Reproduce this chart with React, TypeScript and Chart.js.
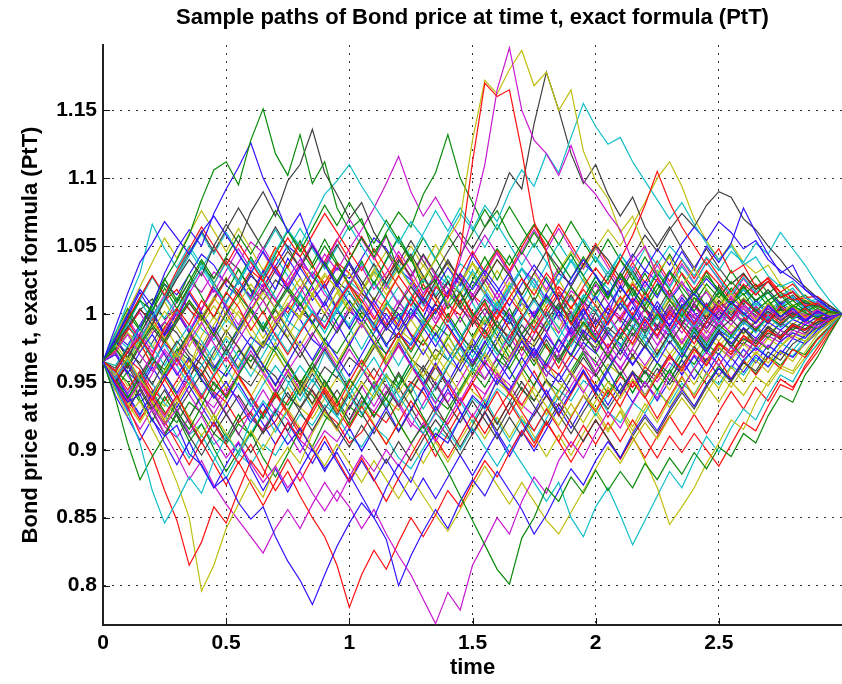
import React, { useEffect, useRef } from "react";
import { Chart, registerables } from "chart.js";

Chart.register(...registerables);

const TITLE = "Sample paths of Bond price at time t, exact formula (PtT)";
const X_LABEL = "time";
const Y_LABEL = "Bond price at time t, exact formula (PtT)";

const times = [
  0, 0.05, 0.1, 0.15, 0.2, 0.25, 0.3, 0.35, 0.4, 0.45, 0.5,
  0.55, 0.6, 0.65, 0.7, 0.75, 0.8, 0.85, 0.9, 0.95, 1.0,
  1.05, 1.1, 1.15, 1.2, 1.25, 1.3, 1.35, 1.4, 1.45, 1.5,
  1.55, 1.6, 1.65, 1.7, 1.75, 1.8, 1.85, 1.9, 1.95, 2.0,
  2.05, 2.1, 2.15, 2.2, 2.25, 2.3, 2.35, 2.4, 2.45, 2.5,
  2.55, 2.6, 2.65, 2.7, 2.75, 2.8, 2.85, 2.9, 2.95, 3.0,
];

const xTicks = [0, 0.5, 1, 1.5, 2, 2.5];
const yTicks = [0.8, 0.85, 0.9, 0.95, 1, 1.05, 1.1, 1.15];

const path00 = [0.965,
  0.948, 0.935, 0.941, 0.922, 0.910, 0.918, 0.897, 0.889, 0.872, 0.880,
  0.861, 0.849, 0.858, 0.836, 0.818, 0.804, 0.786, 0.808, 0.829, 0.846,
  0.861, 0.850, 0.872, 0.889, 0.876, 0.898, 0.912, 0.905, 0.923, 0.940,
  0.931, 0.952, 0.944, 0.960, 0.975, 0.962, 0.981, 0.970, 0.988, 0.979,
  0.994, 1.008, 0.996, 1.012, 1.003, 0.991, 1.006, 1.015, 1.004, 0.996,
  1.009, 1.001, 0.993, 1.006, 0.998, 1.004, 0.995, 1.002, 0.998, 1.000];
const path01 = [0.965,
  0.978, 0.995, 1.010, 1.002, 1.025, 1.040, 1.058, 1.084, 1.106, 1.112,
  1.095, 1.128, 1.151, 1.118, 1.102, 1.132, 1.096, 1.112, 1.078, 1.062,
  1.070, 1.045, 1.058, 1.030, 1.042, 1.018, 1.025, 1.004, 1.016, 0.998,
  1.010, 0.990, 1.004, 0.985, 0.996, 1.012, 1.003, 1.020, 1.008, 1.024,
  1.011, 1.030, 1.018, 1.006, 1.022, 1.010, 0.998, 1.012, 1.004, 1.016,
  1.007, 1.015, 1.002, 1.010, 0.998, 1.006, 1.001, 0.997, 1.002, 1.000];
const path02 = [0.965,
  0.958, 0.972, 0.983, 0.969, 0.990, 1.004, 0.992, 1.010, 0.998, 1.016,
  1.005, 0.988, 1.002, 0.984, 0.970, 0.986, 1.000, 0.989, 1.008, 1.021,
  1.010, 0.996, 1.012, 1.028, 1.015, 1.002, 1.020, 1.012, 1.045, 1.112,
  1.170, 1.160, 1.165, 1.120, 1.068, 1.046, 1.010, 0.992, 1.006, 0.988,
  0.975, 0.990, 0.978, 0.996, 0.984, 1.002, 0.990, 0.978, 0.994, 1.006,
  0.996, 1.010, 1.002, 0.994, 1.006, 0.998, 1.004, 0.996, 1.002, 1.000];
const path03 = [0.965,
  0.946, 0.928, 0.905, 0.870, 0.846, 0.862, 0.880, 0.868, 0.892, 0.910,
  0.898, 0.921, 0.936, 0.925, 0.948, 0.962, 0.950, 0.972, 0.958, 0.940,
  0.955, 0.968, 0.952, 0.935, 0.948, 0.930, 0.946, 0.962, 0.975, 0.958,
  0.972, 0.990, 0.978, 0.995, 1.010, 0.996, 0.982, 0.998, 1.014, 1.002,
  0.988, 0.976, 0.992, 0.980, 0.968, 0.984, 0.972, 0.988, 0.976, 0.990,
  0.982, 0.994, 0.986, 0.998, 0.990, 0.996, 1.004, 0.997, 1.002, 1.000];
const path04 = [0.965,
  0.972, 0.985, 0.970, 0.958, 0.974, 0.962, 0.980, 0.994, 0.978, 0.965,
  0.981, 0.996, 1.010, 0.994, 1.006, 1.020, 1.004, 0.990, 1.008, 1.022,
  1.035, 1.018, 1.030, 1.046, 1.032, 1.015, 1.028, 1.012, 1.040, 1.072,
  1.110, 1.165, 1.196, 1.150, 1.128, 1.118, 1.102, 1.124, 1.098, 1.088,
  1.074, 1.062, 1.038, 1.050, 1.028, 1.012, 1.024, 1.008, 1.016, 1.002,
  1.012, 1.004, 0.994, 1.006, 0.998, 1.004, 0.996, 1.003, 0.998, 1.000];
const path05 = [0.965,
  0.955, 0.968, 0.952, 0.940, 0.958, 0.972, 0.960, 0.984, 0.998, 0.986,
  1.002, 0.990, 0.976, 0.994, 1.008, 0.996, 1.015, 1.030, 1.018, 1.002,
  1.016, 1.030, 1.014, 1.028, 1.042, 1.026, 1.040, 1.055, 1.070, 1.128,
  1.172, 1.162, 1.180, 1.194, 1.168, 1.178, 1.150, 1.165, 1.120, 1.098,
  1.085, 1.060, 1.072, 1.048, 1.030, 1.042, 1.020, 1.034, 1.018, 1.006,
  1.015, 1.004, 0.996, 1.008, 1.000, 1.006, 0.997, 1.003, 0.999, 1.000];
const path06 = [0.965,
  0.978, 0.990, 1.004, 0.992, 1.010, 1.026, 1.040, 1.028, 1.050, 1.066,
  1.052, 1.075, 1.090, 1.072, 1.098, 1.110, 1.136, 1.104, 1.088, 1.070,
  1.082, 1.060, 1.046, 1.030, 1.044, 1.028, 1.012, 1.024, 1.006, 0.992,
  1.004, 0.990, 0.976, 0.992, 0.980, 0.995, 1.008, 0.994, 0.980, 0.996,
  0.984, 0.970, 0.986, 0.975, 0.990, 0.978, 0.992, 0.982, 0.995, 0.988,
  0.996, 0.986, 0.994, 1.002, 0.995, 1.001, 0.996, 1.002, 0.998, 1.000];
const path07 = [0.965,
  0.982, 1.000, 1.018, 1.006, 1.030, 1.048, 1.062, 1.050, 1.074, 1.092,
  1.108, 1.126, 1.100, 1.082, 1.060, 1.074, 1.050, 1.036, 1.020, 1.038,
  1.020, 1.004, 0.988, 1.000, 0.984, 0.970, 0.986, 0.972, 0.958, 0.974,
  0.962, 0.948, 0.964, 0.980, 0.968, 0.984, 0.972, 0.990, 1.004, 0.992,
  1.006, 1.020, 1.008, 1.024, 1.012, 1.030, 1.046, 1.032, 1.050, 1.038,
  1.052, 1.078, 1.060, 1.044, 1.030, 1.036, 1.018, 1.012, 1.004, 1.000];
const path08 = [0.965,
  0.938, 0.905, 0.878, 0.895, 0.910, 0.928, 0.915, 0.932, 0.950, 0.938,
  0.955, 0.970, 0.958, 0.976, 0.962, 0.948, 0.964, 0.950, 0.936, 0.952,
  0.940, 0.925, 0.938, 0.920, 0.905, 0.918, 0.900, 0.884, 0.866, 0.848,
  0.830, 0.812, 0.801, 0.835, 0.850, 0.872, 0.862, 0.880, 0.868, 0.885,
  0.870, 0.884, 0.872, 0.890, 0.878, 0.894, 0.882, 0.898, 0.886, 0.902,
  0.895, 0.912, 0.905, 0.925, 0.940, 0.935, 0.955, 0.968, 0.985, 1.000];
const path09 = [0.965,
  0.950, 0.932, 0.912, 0.896, 0.870, 0.848, 0.815, 0.832, 0.858, 0.846,
  0.870, 0.892, 0.880, 0.904, 0.920, 0.908, 0.930, 0.946, 0.932, 0.950,
  0.966, 0.952, 0.970, 0.986, 0.974, 0.990, 1.004, 0.990, 0.976, 0.994,
  1.008, 0.996, 1.012, 1.026, 1.014, 1.030, 1.018, 1.004, 1.020, 1.034,
  1.022, 1.040, 1.058, 1.080, 1.105, 1.082, 1.064, 1.050, 1.036, 1.048,
  1.030, 1.036, 1.020, 1.026, 1.012, 1.016, 1.006, 1.008, 1.002, 1.000];
const path10 = [0.965,
  0.978, 0.992, 0.980, 0.998, 1.012, 1.000, 1.018, 1.034, 1.020, 1.008,
  1.024, 1.040, 1.028, 1.046, 1.062, 1.050, 1.070, 1.088, 1.098, 1.110,
  1.094, 1.080, 1.066, 1.052, 1.068, 1.056, 1.040, 1.058, 1.074, 1.062,
  1.080, 1.068, 1.090, 1.106, 1.094, 1.118, 1.104, 1.130, 1.155, 1.138,
  1.125, 1.130, 1.112, 1.098, 1.084, 1.070, 1.082, 1.066, 1.052, 1.040,
  1.050, 1.036, 1.042, 1.028, 1.020, 1.024, 1.012, 1.008, 1.003, 1.000];
const path11 = [0.965,
  0.950, 0.936, 0.950, 0.932, 0.918, 0.930, 0.912, 0.925, 0.908, 0.894,
  0.906, 0.890, 0.876, 0.888, 0.872, 0.884, 0.868, 0.855, 0.870, 0.858,
  0.842, 0.856, 0.838, 0.822, 0.808, 0.790, 0.772, 0.795, 0.782, 0.815,
  0.832, 0.850, 0.838, 0.862, 0.880, 0.868, 0.892, 0.906, 0.894, 0.912,
  0.928, 0.916, 0.934, 0.950, 0.938, 0.956, 0.944, 0.960, 0.972, 0.962,
  0.976, 0.968, 0.982, 0.975, 0.988, 0.982, 0.994, 0.990, 0.997, 1.000];
const path12 = [0.965,
  0.944, 0.925, 0.936, 0.915, 0.898, 0.876, 0.850, 0.796, 0.815, 0.842,
  0.860, 0.878, 0.865, 0.888, 0.902, 0.890, 0.912, 0.928, 0.914, 0.935,
  0.950, 0.938, 0.955, 0.942, 0.958, 0.974, 0.960, 0.978, 0.964, 0.982,
  0.996, 0.980, 0.965, 0.982, 0.968, 0.950, 0.938, 0.925, 0.940, 0.930,
  0.915, 0.928, 0.910, 0.892, 0.872, 0.845, 0.858, 0.872, 0.890, 0.905,
  0.922, 0.915, 0.935, 0.950, 0.962, 0.958, 0.972, 0.985, 0.994, 1.000];
const path13 = [0.965,
  0.960, 0.975, 0.962, 0.948, 0.965, 0.980, 0.968, 0.955, 0.972, 0.988,
  0.975, 0.960, 0.978, 0.994, 0.982, 0.968, 0.984, 1.000, 0.986, 1.002,
  1.016, 1.004, 0.990, 1.006, 1.020, 1.008, 1.024, 1.038, 1.026, 1.010,
  1.024, 1.040, 1.028, 1.014, 1.030, 1.046, 1.034, 1.020, 1.036, 1.050,
  1.040, 1.026, 1.042, 1.058, 1.046, 1.062, 1.074, 1.064, 1.080, 1.090,
  1.086, 1.070, 1.062, 1.050, 1.040, 1.028, 1.020, 1.012, 1.006, 1.000];
const path14 = [0.965,
  0.970, 0.956, 0.972, 0.985, 0.970, 0.955, 0.968, 0.952, 0.938, 0.950,
  0.935, 0.920, 0.934, 0.918, 0.904, 0.916, 0.900, 0.886, 0.898, 0.882,
  0.866, 0.850, 0.834, 0.800, 0.822, 0.840, 0.856, 0.842, 0.862, 0.878,
  0.866, 0.884, 0.870, 0.856, 0.838, 0.852, 0.870, 0.886, 0.874, 0.892,
  0.906, 0.894, 0.912, 0.926, 0.914, 0.930, 0.944, 0.932, 0.948, 0.960,
  0.952, 0.966, 0.975, 0.968, 0.980, 0.986, 0.982, 0.992, 0.996, 1.000];
const path15 = [0.965,
  0.975, 0.962, 0.978, 0.992, 0.980, 0.996, 1.010, 0.998, 0.984, 1.000,
  1.014, 1.002, 0.988, 1.004, 1.018, 1.006, 1.022, 1.038, 1.024, 1.040,
  1.056, 1.042, 1.060, 1.075, 1.064, 1.088, 1.104, 1.132, 1.100, 1.082,
  1.064, 1.076, 1.058, 1.044, 1.060, 1.046, 1.030, 1.044, 1.028, 1.014,
  1.026, 1.040, 1.028, 1.014, 1.030, 1.018, 1.004, 1.016, 1.028, 1.018,
  1.008, 1.020, 1.010, 1.016, 1.004, 1.010, 1.002, 1.006, 1.001, 1.000];
const path16 = [0.965,
  0.958, 0.944, 0.958, 0.940, 0.926, 0.940, 0.922, 0.906, 0.920, 0.904,
  0.890, 0.904, 0.886, 0.870, 0.884, 0.866, 0.850, 0.836, 0.815, 0.784,
  0.808, 0.826, 0.812, 0.832, 0.850, 0.836, 0.852, 0.870, 0.858, 0.876,
  0.892, 0.880, 0.898, 0.914, 0.902, 0.920, 0.906, 0.924, 0.940, 0.928,
  0.944, 0.932, 0.950, 0.938, 0.954, 0.970, 0.958, 0.974, 0.962, 0.978,
  0.970, 0.984, 0.976, 0.988, 0.982, 0.992, 0.988, 0.996, 0.994, 1.000];
const path17 = [0.965,
  0.952, 0.966, 0.950, 0.964, 0.978, 0.962, 0.948, 0.962, 0.976, 0.960,
  0.946, 0.932, 0.948, 0.962, 0.950, 0.936, 0.952, 0.938, 0.924, 0.940,
  0.926, 0.942, 0.956, 0.940, 0.926, 0.912, 0.928, 0.914, 0.900, 0.916,
  0.902, 0.888, 0.904, 0.890, 0.876, 0.862, 0.876, 0.850, 0.836, 0.858,
  0.872, 0.852, 0.830, 0.848, 0.866, 0.884, 0.872, 0.892, 0.910, 0.898,
  0.916, 0.930, 0.922, 0.940, 0.955, 0.950, 0.966, 0.978, 0.990, 1.000];
const path18 = [0.965,
  0.948, 0.930, 0.915, 0.930, 0.912, 0.896, 0.878, 0.892, 0.874, 0.860,
  0.848, 0.836, 0.824, 0.842, 0.856, 0.842, 0.860, 0.876, 0.862, 0.880,
  0.896, 0.884, 0.900, 0.888, 0.904, 0.920, 0.906, 0.922, 0.938, 0.924,
  0.940, 0.956, 0.942, 0.958, 0.972, 0.960, 0.976, 0.990, 0.976, 0.962,
  0.978, 0.966, 0.982, 0.996, 0.984, 0.998, 1.010, 0.998, 0.986, 1.000,
  0.992, 1.004, 0.996, 1.006, 0.998, 1.004, 0.999, 1.003, 0.998, 1.000];
const path19 = [0.965,
  0.978, 0.965, 0.980, 0.994, 0.982, 0.968, 0.984, 0.998, 1.012, 1.000,
  0.986, 1.002, 1.016, 1.004, 0.990, 0.976, 0.992, 0.978, 0.964, 0.980,
  0.994, 0.980, 0.966, 0.982, 0.968, 0.954, 0.970, 0.956, 0.942, 0.958,
  0.972, 0.958, 0.944, 0.930, 0.946, 0.932, 0.918, 0.934, 0.920, 0.936,
  0.950, 0.938, 0.952, 0.940, 0.956, 0.944, 0.960, 0.948, 0.964, 0.976,
  0.966, 0.978, 0.970, 0.982, 0.976, 0.986, 0.984, 0.992, 0.996, 1.000];
const path20 = [0.965,
  0.950, 0.962, 0.946, 0.930, 0.944, 0.928, 0.942, 0.956, 0.940, 0.926,
  0.940, 0.926, 0.912, 0.928, 0.914, 0.930, 0.944, 0.930, 0.916, 0.902,
  0.918, 0.904, 0.890, 0.906, 0.892, 0.908, 0.922, 0.910, 0.896, 0.912,
  0.928, 0.914, 0.930, 0.946, 0.932, 0.918, 0.934, 0.920, 0.906, 0.922,
  0.908, 0.894, 0.910, 0.924, 0.912, 0.928, 0.942, 0.930, 0.946, 0.960,
  0.950, 0.964, 0.958, 0.972, 0.966, 0.978, 0.984, 0.990, 0.995, 1.000];
const path21 = [0.965,
  0.990, 1.015, 1.038, 1.052, 1.068, 1.056, 1.044, 1.060, 1.072, 1.058,
  1.044, 1.030, 1.046, 1.032, 1.018, 1.034, 1.020, 1.006, 1.022, 1.008,
  0.994, 1.010, 0.996, 0.982, 0.998, 1.012, 1.000, 1.016, 1.030, 1.018,
  1.032, 1.020, 1.006, 1.022, 1.036, 1.024, 1.010, 1.026, 1.040, 1.028,
  1.014, 1.030, 1.044, 1.032, 1.048, 1.036, 1.052, 1.064, 1.054, 1.068,
  1.060, 1.048, 1.054, 1.040, 1.032, 1.026, 1.018, 1.010, 1.004, 1.000];
const path22 = [0.965,
  0.952, 0.938, 0.954, 0.968, 0.956, 0.972, 0.986, 0.972, 0.958, 0.974,
  0.990, 1.004, 0.990, 1.006, 1.020, 1.008, 0.994, 0.980, 0.996, 1.010,
  0.998, 0.984, 0.970, 0.986, 0.972, 0.988, 1.002, 1.016, 1.004, 1.020,
  1.034, 1.048, 1.036, 1.052, 1.066, 1.054, 1.040, 1.026, 1.042, 1.028,
  1.014, 1.030, 1.016, 1.002, 1.018, 1.032, 1.020, 1.008, 1.022, 1.012,
  1.024, 1.014, 1.022, 1.010, 1.016, 1.006, 1.010, 1.004, 1.002, 1.000];
const path23 = [0.965,
  0.978, 0.996, 1.012, 1.028, 1.014, 1.032, 1.048, 1.064, 1.050, 1.036,
  1.052, 1.038, 1.024, 1.040, 1.056, 1.042, 1.058, 1.074, 1.060, 1.046,
  1.032, 1.048, 1.034, 1.020, 1.006, 1.022, 1.008, 0.994, 1.010, 0.996,
  0.982, 0.998, 1.012, 1.000, 0.986, 1.002, 1.016, 1.004, 1.018, 1.006,
  0.992, 1.008, 1.022, 1.010, 1.026, 1.014, 1.030, 1.018, 1.032, 1.022,
  1.010, 1.022, 1.014, 1.024, 1.016, 1.010, 1.012, 1.006, 1.003, 1.000];
const path24 = [0.965,
  0.962, 0.976, 0.990, 0.976, 0.962, 0.978, 0.992, 0.980, 0.966, 0.982,
  0.968, 0.954, 0.970, 0.986, 0.972, 0.988, 1.002, 0.990, 1.004, 0.992,
  1.008, 1.022, 1.010, 0.996, 1.012, 1.026, 1.014, 1.028, 1.016, 1.032,
  1.018, 1.004, 1.020, 1.034, 1.022, 1.008, 1.024, 1.040, 1.028, 1.042,
  1.030, 1.044, 1.032, 1.048, 1.036, 1.050, 1.040, 1.028, 1.042, 1.032,
  1.046, 1.038, 1.052, 1.044, 1.060, 1.048, 1.036, 1.022, 1.010, 1.000];
const path25 = [0.965,
  0.958, 0.972, 0.986, 0.972, 0.988, 1.002, 0.988, 1.004, 1.018, 1.006,
  0.992, 1.008, 1.022, 1.010, 1.026, 1.040, 1.028, 1.044, 1.032, 1.048,
  1.062, 1.078, 1.096, 1.116, 1.090, 1.072, 1.086, 1.070, 1.056, 1.042,
  1.058, 1.044, 1.030, 1.046, 1.032, 1.018, 1.034, 1.020, 1.006, 1.022,
  1.008, 0.994, 1.010, 0.996, 0.982, 0.998, 0.986, 1.000, 0.990, 1.004,
  0.996, 1.006, 0.998, 1.004, 0.996, 1.002, 0.997, 1.001, 0.998, 1.000];
const path26 = [0.965,
  0.948, 0.934, 0.920, 0.936, 0.922, 0.938, 0.924, 0.910, 0.926, 0.912,
  0.898, 0.914, 0.900, 0.916, 0.930, 0.916, 0.902, 0.888, 0.904, 0.890,
  0.876, 0.892, 0.878, 0.864, 0.880, 0.866, 0.852, 0.840, 0.856, 0.872,
  0.888, 0.874, 0.860, 0.876, 0.862, 0.848, 0.838, 0.854, 0.870, 0.886,
  0.902, 0.890, 0.906, 0.920, 0.908, 0.924, 0.938, 0.926, 0.942, 0.956,
  0.946, 0.960, 0.972, 0.964, 0.976, 0.984, 0.980, 0.990, 0.995, 1.000];
const path27 = [0.965,
  0.975, 0.960, 0.976, 0.990, 0.978, 0.994, 1.008, 0.996, 1.012, 1.026,
  1.014, 1.030, 1.016, 1.032, 1.046, 1.034, 1.050, 1.036, 1.022, 1.038,
  1.024, 1.010, 1.026, 1.040, 1.028, 1.044, 1.030, 1.046, 1.060, 1.048,
  1.064, 1.080, 1.104, 1.092, 1.140, 1.178, 1.150, 1.118, 1.096, 1.110,
  1.088, 1.072, 1.086, 1.064, 1.050, 1.064, 1.048, 1.034, 1.048, 1.034,
  1.022, 1.030, 1.018, 1.024, 1.012, 1.016, 1.008, 1.006, 1.002, 1.000];
const path28 = [0.965,
  0.955, 0.940, 0.926, 0.942, 0.956, 0.942, 0.958, 0.972, 0.960, 0.974,
  0.988, 0.976, 0.962, 0.948, 0.964, 0.980, 0.966, 0.982, 0.968, 0.954,
  0.970, 0.986, 1.000, 0.988, 1.004, 0.990, 0.976, 0.992, 0.978, 0.964,
  0.980, 0.966, 0.952, 0.968, 0.954, 0.940, 0.956, 0.942, 0.958, 0.944,
  0.960, 0.974, 0.962, 0.976, 0.964, 0.980, 0.968, 0.984, 0.972, 0.986,
  0.978, 0.990, 0.982, 0.994, 0.988, 0.996, 0.992, 0.998, 0.996, 1.000];
const path29 = [0.965,
  0.982, 1.000, 0.988, 1.006, 1.022, 1.008, 1.024, 1.040, 1.026, 1.042,
  1.058, 1.044, 1.060, 1.076, 1.062, 1.048, 1.034, 1.050, 1.036, 1.022,
  1.008, 1.024, 1.010, 0.996, 1.012, 0.998, 0.984, 1.000, 0.986, 0.972,
  0.988, 0.974, 0.960, 0.976, 0.962, 0.978, 0.964, 0.980, 0.994, 0.982,
  0.968, 0.984, 0.998, 0.986, 1.000, 0.988, 0.974, 0.990, 0.978, 0.992,
  0.984, 0.996, 0.988, 0.998, 0.992, 1.000, 0.996, 1.002, 0.999, 1.000];
const path30 = [0.965,
  0.950, 0.964, 0.950, 0.936, 0.952, 0.966, 0.952, 0.938, 0.954, 0.968,
  0.954, 0.940, 0.926, 0.942, 0.928, 0.914, 0.930, 0.944, 0.930, 0.916,
  0.932, 0.918, 0.904, 0.920, 0.936, 0.922, 0.908, 0.894, 0.910, 0.926,
  0.912, 0.928, 0.942, 0.928, 0.914, 0.930, 0.916, 0.902, 0.918, 0.904,
  0.920, 0.906, 0.922, 0.908, 0.894, 0.910, 0.898, 0.912, 0.900, 0.888,
  0.904, 0.920, 0.914, 0.932, 0.948, 0.944, 0.962, 0.975, 0.988, 1.000];
const path31 = [0.965,
  0.985, 1.008, 1.030, 1.066, 1.048, 1.034, 1.050, 1.036, 1.022, 1.038,
  1.024, 1.010, 1.026, 1.012, 0.998, 1.014, 1.000, 0.986, 1.002, 1.016,
  1.004, 0.990, 1.006, 1.020, 1.008, 0.994, 0.980, 0.996, 0.982, 0.968,
  0.984, 0.970, 0.986, 1.000, 0.988, 1.002, 0.990, 0.976, 0.992, 1.006,
  0.994, 1.008, 0.996, 0.982, 0.998, 0.986, 1.000, 0.990, 1.004, 0.994,
  1.006, 0.998, 1.008, 1.000, 1.006, 0.998, 1.003, 0.999, 1.002, 1.000];
const path32 = [0.965,
  0.952, 0.966, 0.952, 0.938, 0.924, 0.940, 0.954, 0.940, 0.926, 0.942,
  0.956, 0.970, 0.956, 0.942, 0.958, 0.972, 0.986, 0.972, 0.958, 0.974,
  0.960, 0.946, 0.962, 0.976, 0.962, 0.948, 0.934, 0.950, 0.936, 0.952,
  0.966, 0.952, 0.968, 0.982, 0.968, 0.954, 0.970, 0.956, 0.942, 0.958,
  0.972, 0.960, 0.974, 0.962, 0.976, 0.990, 0.978, 0.992, 0.980, 0.994,
  0.986, 0.996, 0.990, 0.998, 0.992, 1.000, 0.996, 1.002, 0.998, 1.000];
const path33 = [0.965,
  0.972, 0.986, 0.972, 0.988, 1.002, 0.990, 0.976, 0.992, 1.006, 0.994,
  1.008, 1.022, 1.010, 0.996, 1.012, 1.026, 1.014, 1.000, 1.016, 1.030,
  1.018, 1.032, 1.046, 1.034, 1.020, 1.036, 1.022, 1.008, 1.024, 1.038,
  1.026, 1.040, 1.028, 1.014, 1.030, 1.016, 1.032, 1.046, 1.034, 1.048,
  1.062, 1.050, 1.066, 1.082, 1.100, 1.112, 1.094, 1.070, 1.054, 1.040,
  1.052, 1.038, 1.030, 1.036, 1.022, 1.016, 1.010, 1.006, 1.002, 1.000];
const path34 = [0.965,
  0.946, 0.930, 0.944, 0.928, 0.912, 0.926, 0.910, 0.896, 0.912, 0.926,
  0.912, 0.898, 0.914, 0.928, 0.942, 0.928, 0.914, 0.930, 0.944, 0.930,
  0.946, 0.960, 0.946, 0.932, 0.948, 0.962, 0.948, 0.934, 0.920, 0.936,
  0.922, 0.908, 0.924, 0.910, 0.926, 0.940, 0.926, 0.912, 0.928, 0.942,
  0.930, 0.944, 0.958, 0.946, 0.960, 0.948, 0.962, 0.976, 0.964, 0.978,
  0.970, 0.982, 0.976, 0.986, 0.982, 0.990, 0.988, 0.994, 0.997, 1.000];
const path35 = [0.965,
  0.980, 0.971, 0.990, 1.003, 0.984, 0.996, 1.015, 1.001, 0.987, 1.009,
  1.024, 1.013, 1.032, 1.018, 1.041, 1.027, 1.010, 1.022, 1.003, 0.989,
  1.006, 0.992, 0.976, 0.994, 1.011, 0.997, 1.019, 1.034, 1.021, 1.043,
  1.029, 1.016, 1.031, 1.012, 0.998, 1.014, 1.002, 0.985, 0.999, 1.013,
  1.000, 1.021, 1.008, 0.993, 1.009, 0.996, 1.012, 1.001, 0.990, 1.004,
  0.997, 1.010, 1.003, 0.995, 1.005, 1.000, 0.994, 1.003, 0.999, 1.000];
const path36 = [0.965,
  0.944, 0.958, 0.937, 0.921, 0.939, 0.925, 0.906, 0.919, 0.901, 0.884,
  0.899, 0.913, 0.894, 0.880, 0.897, 0.915, 0.902, 0.921, 0.936, 0.918,
  0.933, 0.950, 0.937, 0.955, 0.941, 0.924, 0.909, 0.926, 0.943, 0.958,
  0.946, 0.962, 0.978, 0.961, 0.947, 0.966, 0.982, 0.969, 0.985, 0.972,
  0.958, 0.974, 0.990, 0.977, 0.964, 0.951, 0.967, 0.983, 0.971, 0.986,
  0.979, 0.968, 0.981, 0.974, 0.988, 0.983, 0.992, 0.989, 0.996, 1.000];
const path37 = [0.965,
  0.973, 0.991, 0.979, 0.962, 0.981, 0.998, 1.017, 1.003, 1.022, 1.039,
  1.025, 1.011, 1.030, 1.049, 1.034, 1.052, 1.036, 1.019, 1.037, 1.020,
  1.004, 0.988, 1.005, 0.991, 1.010, 1.028, 1.013, 0.997, 1.016, 1.001,
  0.985, 1.003, 0.989, 0.973, 0.990, 0.976, 0.960, 0.978, 0.994, 0.980,
  0.997, 1.013, 0.999, 1.016, 1.002, 0.987, 1.004, 0.992, 1.007, 0.995,
  1.009, 0.998, 0.988, 1.001, 0.993, 1.004, 0.998, 1.003, 0.998, 1.000];
const path38 = [0.965,
  0.951, 0.965, 0.982, 0.968, 0.954, 0.971, 0.957, 0.940, 0.956, 0.972,
  0.959, 0.976, 0.994, 0.980, 0.997, 1.015, 1.001, 0.986, 1.004, 0.990,
  0.974, 0.991, 0.977, 0.962, 0.979, 0.995, 0.981, 0.966, 0.982, 0.998,
  1.014, 1.000, 1.017, 1.033, 1.019, 1.036, 1.052, 1.038, 1.055, 1.041,
  1.027, 1.044, 1.030, 1.016, 1.032, 1.019, 1.035, 1.022, 1.038, 1.026,
  1.014, 1.027, 1.016, 1.024, 1.013, 1.019, 1.008, 1.011, 1.004, 1.000];
const path39 = [0.965,
  0.958, 0.941, 0.955, 0.970, 0.953, 0.968, 0.984, 0.969, 0.985, 1.001,
  0.986, 1.003, 1.019, 1.004, 1.021, 1.036, 1.052, 1.037, 1.054, 1.070,
  1.055, 1.040, 1.057, 1.041, 1.026, 1.043, 1.028, 1.012, 1.029, 1.014,
  0.999, 1.016, 1.000, 0.985, 1.002, 0.987, 0.971, 0.988, 0.973, 0.957,
  0.974, 0.959, 0.975, 0.991, 0.977, 0.993, 0.979, 0.994, 0.982, 0.996,
  0.985, 0.997, 0.988, 0.999, 0.991, 1.001, 0.995, 1.002, 0.998, 1.000];
const path40 = [0.965,
  0.948, 0.932, 0.949, 0.935, 0.918, 0.934, 0.950, 0.936, 0.921, 0.937,
  0.953, 0.939, 0.955, 0.971, 0.957, 0.942, 0.959, 0.944, 0.928, 0.945,
  0.961, 0.977, 0.963, 0.980, 0.996, 0.982, 0.967, 0.984, 0.969, 0.953,
  0.970, 0.955, 0.940, 0.957, 0.941, 0.926, 0.943, 0.958, 0.944, 0.929,
  0.946, 0.931, 0.917, 0.934, 0.920, 0.937, 0.953, 0.940, 0.957, 0.945,
  0.961, 0.950, 0.966, 0.957, 0.972, 0.965, 0.979, 0.986, 0.993, 1.000];
const path41 = [0.965,
  0.982, 0.967, 0.985, 1.001, 0.986, 1.003, 0.988, 0.973, 0.990, 0.975,
  0.960, 0.977, 0.962, 0.947, 0.964, 0.949, 0.934, 0.951, 0.937, 0.922,
  0.939, 0.924, 0.941, 0.957, 0.942, 0.959, 0.944, 0.961, 0.977, 0.962,
  0.979, 0.995, 0.980, 0.997, 1.012, 0.998, 1.014, 1.000, 0.985, 1.001,
  1.017, 1.003, 1.019, 1.005, 0.991, 1.007, 0.993, 1.008, 0.996, 1.010,
  0.999, 1.011, 1.001, 0.993, 1.004, 0.997, 1.005, 0.999, 1.002, 1.000];
const path42 = [0.965,
  0.940, 0.924, 0.907, 0.923, 0.905, 0.889, 0.906, 0.888, 0.872, 0.889,
  0.905, 0.887, 0.870, 0.886, 0.869, 0.885, 0.901, 0.884, 0.900, 0.916,
  0.899, 0.915, 0.931, 0.914, 0.930, 0.946, 0.929, 0.945, 0.928, 0.912,
  0.928, 0.911, 0.895, 0.912, 0.928, 0.944, 0.927, 0.943, 0.959, 0.942,
  0.958, 0.941, 0.957, 0.940, 0.956, 0.970, 0.955, 0.969, 0.956, 0.971,
  0.960, 0.974, 0.964, 0.977, 0.970, 0.982, 0.978, 0.988, 0.994, 1.000];
const path43 = [0.965,
  0.986, 1.004, 0.989, 1.008, 1.026, 1.010, 1.029, 1.013, 0.997, 1.015,
  1.033, 1.017, 1.000, 1.018, 1.036, 1.054, 1.037, 1.055, 1.038, 1.021,
  1.039, 1.022, 1.040, 1.057, 1.040, 1.023, 1.041, 1.024, 1.007, 1.025,
  1.042, 1.025, 1.043, 1.026, 1.009, 1.027, 1.010, 0.994, 1.011, 1.028,
  1.012, 1.029, 1.013, 1.030, 1.014, 1.031, 1.016, 1.002, 1.018, 1.005,
  1.019, 1.007, 1.017, 1.006, 1.014, 1.004, 1.009, 1.002, 1.004, 1.000];
const path44 = [0.965,
  0.953, 0.937, 0.922, 0.938, 0.921, 0.905, 0.889, 0.906, 0.890, 0.874,
  0.891, 0.875, 0.859, 0.876, 0.893, 0.877, 0.894, 0.910, 0.893, 0.877,
  0.894, 0.878, 0.862, 0.879, 0.896, 0.912, 0.895, 0.912, 0.928, 0.911,
  0.927, 0.943, 0.926, 0.942, 0.958, 0.941, 0.925, 0.941, 0.957, 0.940,
  0.924, 0.940, 0.956, 0.939, 0.923, 0.939, 0.954, 0.938, 0.953, 0.967,
  0.952, 0.966, 0.955, 0.968, 0.960, 0.974, 0.968, 0.981, 0.990, 1.000];
const path45 = [0.965,
  0.976, 0.992, 1.010, 1.027, 1.013, 1.030, 1.047, 1.033, 1.050, 1.036,
  1.022, 1.039, 1.025, 1.042, 1.028, 1.014, 1.031, 1.017, 1.003, 1.020,
  1.037, 1.022, 1.039, 1.056, 1.042, 1.059, 1.076, 1.061, 1.078, 1.064,
  1.049, 1.066, 1.051, 1.036, 1.052, 1.038, 1.023, 1.039, 1.024, 1.010,
  1.026, 1.011, 0.997, 1.013, 0.999, 1.015, 1.001, 1.016, 1.003, 1.017,
  1.005, 1.018, 1.006, 1.016, 1.005, 1.013, 1.004, 1.008, 1.003, 1.000];
const path46 = [0.965,
  0.971, 0.955, 0.940, 0.956, 0.972, 0.957, 0.941, 0.926, 0.942, 0.927,
  0.911, 0.928, 0.944, 0.929, 0.913, 0.898, 0.914, 0.930, 0.915, 0.931,
  0.947, 0.932, 0.948, 0.933, 0.917, 0.934, 0.950, 0.935, 0.951, 0.967,
  0.952, 0.968, 0.984, 0.969, 0.985, 1.001, 0.986, 1.002, 0.987, 0.972,
  0.988, 0.973, 0.989, 1.004, 0.990, 1.005, 0.991, 1.006, 0.993, 1.007,
  0.995, 1.008, 0.997, 1.007, 0.998, 1.005, 0.998, 1.003, 0.999, 1.000];
const path47 = [0.965,
  0.984, 1.002, 1.020, 1.038, 1.056, 1.041, 1.059, 1.076, 1.061, 1.046,
  1.063, 1.048, 1.032, 1.049, 1.034, 1.019, 1.036, 1.021, 1.005, 1.022,
  1.007, 0.992, 1.009, 0.994, 1.011, 1.027, 1.012, 0.997, 1.014, 1.030,
  1.015, 1.032, 1.017, 1.002, 1.019, 1.004, 0.989, 1.006, 0.991, 1.007,
  0.993, 1.009, 1.024, 1.010, 0.996, 1.011, 0.997, 1.012, 0.999, 1.013,
  1.001, 1.012, 1.002, 1.010, 1.001, 1.007, 0.999, 1.004, 1.000, 1.000];
const path48 = [0.965,
  0.950, 0.935, 0.951, 0.967, 0.952, 0.968, 0.953, 0.969, 0.985, 0.970,
  0.986, 1.002, 0.987, 1.003, 0.988, 0.973, 0.958, 0.974, 0.959, 0.944,
  0.960, 0.945, 0.930, 0.946, 0.931, 0.916, 0.932, 0.917, 0.902, 0.918,
  0.934, 0.919, 0.935, 0.950, 0.936, 0.952, 0.937, 0.953, 0.968, 0.954,
  0.969, 0.955, 0.970, 0.956, 0.971, 0.986, 0.972, 0.987, 0.974, 0.988,
  0.976, 0.989, 0.980, 0.991, 0.984, 0.993, 0.989, 0.996, 0.998, 1.000];
const path49 = [0.965,
  0.982, 0.998, 1.016, 1.000, 0.984, 1.001, 0.986, 1.003, 1.020, 1.004,
  0.988, 1.005, 0.990, 0.974, 0.991, 1.008, 0.992, 1.009, 0.993, 0.977,
  0.994, 0.978, 0.962, 0.979, 0.963, 0.948, 0.964, 0.949, 0.966, 0.982,
  0.967, 0.983, 1.000, 0.985, 0.970, 0.986, 1.002, 0.987, 1.003, 0.988,
  0.974, 0.989, 1.005, 0.990, 1.006, 0.991, 1.007, 0.994, 1.008, 0.996,
  1.009, 0.998, 1.010, 1.000, 1.008, 0.999, 1.005, 0.998, 1.002, 1.000];
const path50 = [0.965,
  0.952, 0.937, 0.954, 0.939, 0.955, 0.940, 0.924, 0.941, 0.925, 0.909,
  0.926, 0.910, 0.927, 0.944, 0.928, 0.945, 0.961, 0.946, 0.962, 0.978,
  0.963, 0.979, 0.964, 0.948, 0.965, 0.981, 0.966, 0.982, 0.998, 0.983,
  0.999, 0.984, 0.968, 0.985, 0.969, 0.954, 0.970, 0.955, 0.971, 0.956,
  0.941, 0.957, 0.942, 0.958, 0.944, 0.959, 0.945, 0.960, 0.948, 0.962,
  0.951, 0.965, 0.956, 0.969, 0.962, 0.974, 0.970, 0.982, 0.991, 1.000];
const path51 = [0.965,
  0.979, 0.995, 0.980, 0.997, 0.981, 0.966, 0.983, 0.999, 0.984, 1.001,
  1.017, 1.002, 1.019, 1.035, 1.020, 1.037, 1.022, 1.039, 1.055, 1.040,
  1.057, 1.042, 1.026, 1.043, 1.027, 1.012, 1.029, 1.013, 1.030, 1.046,
  1.031, 1.047, 1.032, 1.049, 1.065, 1.050, 1.066, 1.051, 1.036, 1.052,
  1.037, 1.022, 1.038, 1.023, 1.039, 1.024, 1.040, 1.026, 1.041, 1.028,
  1.016, 1.029, 1.018, 1.027, 1.016, 1.022, 1.012, 1.013, 1.006, 1.000];
const path52 = [0.965,
  0.957, 0.941, 0.925, 0.942, 0.926, 0.910, 0.894, 0.911, 0.895, 0.879,
  0.896, 0.912, 0.928, 0.913, 0.929, 0.945, 0.930, 0.946, 0.962, 0.947,
  0.931, 0.948, 0.932, 0.949, 0.965, 0.950, 0.935, 0.951, 0.936, 0.920,
  0.937, 0.921, 0.906, 0.922, 0.907, 0.923, 0.939, 0.924, 0.940, 0.925,
  0.941, 0.957, 0.942, 0.958, 0.943, 0.959, 0.974, 0.960, 0.975, 0.962,
  0.976, 0.964, 0.977, 0.968, 0.979, 0.973, 0.984, 0.988, 0.995, 1.000];
const path53 = [0.965,
  0.981, 0.997, 0.982, 0.998, 1.014, 0.999, 1.015, 1.031, 1.016, 1.032,
  1.048, 1.033, 1.049, 1.034, 1.018, 1.003, 1.019, 1.004, 0.989, 1.005,
  0.990, 1.006, 1.022, 1.007, 1.023, 1.008, 0.993, 1.009, 0.994, 1.010,
  1.026, 1.011, 1.027, 1.012, 0.997, 1.013, 0.998, 0.983, 0.999, 0.984,
  1.000, 0.985, 1.001, 0.986, 1.002, 0.988, 1.003, 0.989, 1.004, 0.991,
  1.005, 0.993, 1.006, 0.996, 1.005, 0.998, 1.004, 0.999, 1.002, 1.000];
const path54 = [0.965,
  0.958, 0.974, 0.990, 0.975, 0.991, 0.976, 0.960, 0.977, 0.961, 0.945,
  0.962, 0.978, 0.963, 0.979, 0.964, 0.948, 0.933, 0.949, 0.934, 0.918,
  0.935, 0.919, 0.904, 0.920, 0.905, 0.890, 0.906, 0.891, 0.907, 0.922,
  0.908, 0.924, 0.909, 0.925, 0.910, 0.895, 0.911, 0.896, 0.912, 0.927,
  0.913, 0.929, 0.914, 0.930, 0.945, 0.931, 0.946, 0.932, 0.947, 0.935,
  0.950, 0.940, 0.954, 0.947, 0.960, 0.956, 0.968, 0.977, 0.989, 1.000];
const path55 = [0.965,
  0.980, 0.996, 1.012, 1.028, 1.013, 1.029, 1.045, 1.061, 1.046, 1.062,
  1.078, 1.063, 1.048, 1.064, 1.049, 1.034, 1.050, 1.035, 1.051, 1.036,
  1.021, 1.037, 1.022, 1.038, 1.054, 1.039, 1.024, 1.040, 1.025, 1.010,
  1.026, 1.011, 0.996, 1.012, 0.997, 1.013, 0.998, 1.014, 0.999, 1.015,
  1.031, 1.016, 1.032, 1.017, 1.002, 1.018, 1.003, 1.019, 1.005, 1.020,
  1.007, 1.021, 1.009, 1.018, 1.008, 1.014, 1.005, 1.008, 1.003, 1.000];
const path56 = [0.965,
  0.945, 0.929, 0.945, 0.961, 0.946, 0.931, 0.947, 0.932, 0.917, 0.933,
  0.949, 0.934, 0.919, 0.904, 0.920, 0.905, 0.890, 0.906, 0.891, 0.876,
  0.892, 0.877, 0.893, 0.878, 0.863, 0.879, 0.864, 0.880, 0.896, 0.881,
  0.897, 0.913, 0.898, 0.914, 0.899, 0.915, 0.931, 0.916, 0.932, 0.948,
  0.933, 0.949, 0.935, 0.950, 0.936, 0.951, 0.966, 0.952, 0.967, 0.954,
  0.968, 0.957, 0.970, 0.961, 0.973, 0.968, 0.978, 0.986, 0.993, 1.000];
const path57 = [0.965,
  0.983, 0.968, 0.985, 1.002, 1.019, 1.004, 1.021, 1.038, 1.023, 1.008,
  1.025, 1.042, 1.027, 1.044, 1.061, 1.046, 1.063, 1.080, 1.065, 1.082,
  1.067, 1.052, 1.069, 1.054, 1.039, 1.056, 1.041, 1.058, 1.043, 1.060,
  1.077, 1.062, 1.079, 1.064, 1.049, 1.066, 1.051, 1.068, 1.053, 1.038,
  1.055, 1.040, 1.025, 1.042, 1.027, 1.044, 1.029, 1.014, 1.031, 1.016,
  1.032, 1.018, 1.028, 1.015, 1.022, 1.010, 1.014, 1.005, 1.006, 1.000];
const path58 = [0.965,
  0.950, 0.966, 0.951, 0.936, 0.952, 0.937, 0.953, 0.969, 0.954, 0.939,
  0.955, 0.940, 0.925, 0.941, 0.926, 0.911, 0.927, 0.943, 0.928, 0.944,
  0.960, 0.945, 0.961, 0.977, 0.962, 0.947, 0.963, 0.948, 0.933, 0.949,
  0.934, 0.919, 0.935, 0.920, 0.905, 0.921, 0.906, 0.891, 0.907, 0.922,
  0.908, 0.893, 0.909, 0.894, 0.910, 0.925, 0.911, 0.926, 0.912, 0.928,
  0.943, 0.930, 0.946, 0.936, 0.952, 0.946, 0.960, 0.972, 0.986, 1.000];
const path59 = [0.965,
  0.978, 0.994, 1.010, 0.995, 1.011, 1.027, 1.043, 1.059, 1.044, 1.060,
  1.045, 1.030, 1.046, 1.062, 1.047, 1.063, 1.048, 1.033, 1.049, 1.065,
  1.050, 1.035, 1.020, 1.036, 1.021, 1.006, 1.022, 1.007, 1.023, 1.008,
  0.993, 1.009, 0.994, 1.010, 1.026, 1.011, 0.996, 1.012, 0.997, 0.982,
  0.998, 0.983, 0.999, 0.985, 1.000, 0.986, 1.001, 0.988, 1.002, 0.990,
  1.003, 0.992, 1.004, 0.995, 1.005, 0.997, 1.004, 0.998, 1.002, 1.000];
const path60 = [0.965,
  0.952, 0.968, 0.984, 0.969, 0.985, 1.001, 0.986, 0.971, 0.987, 0.972,
  0.957, 0.973, 0.958, 0.943, 0.959, 0.944, 0.960, 0.976, 0.961, 0.977,
  0.993, 0.978, 0.994, 1.010, 0.995, 1.011, 0.996, 1.012, 1.028, 1.013,
  1.029, 1.045, 1.030, 1.046, 1.062, 1.047, 1.063, 1.048, 1.033, 1.049,
  1.034, 1.019, 1.035, 1.020, 1.036, 1.021, 1.037, 1.023, 1.038, 1.025,
  1.012, 1.026, 1.014, 1.024, 1.012, 1.017, 1.007, 1.009, 1.003, 1.000];
const path61 = [0.965,
  0.976, 0.961, 0.977, 0.993, 1.009, 0.994, 1.010, 0.995, 1.011, 1.027,
  1.012, 0.997, 0.982, 0.998, 0.983, 0.999, 1.015, 1.000, 1.016, 1.001,
  1.017, 1.033, 1.018, 1.034, 1.050, 1.035, 1.051, 1.036, 1.021, 1.037,
  1.022, 1.007, 1.023, 1.008, 0.993, 1.009, 1.025, 1.010, 1.026, 1.011,
  0.996, 1.012, 0.997, 1.013, 0.998, 1.014, 0.999, 1.015, 1.001, 1.016,
  1.003, 0.992, 1.004, 0.994, 1.005, 0.997, 1.004, 0.998, 1.002, 1.000];
const path62 = [0.965,
  0.948, 0.964, 0.949, 0.934, 0.919, 0.935, 0.920, 0.905, 0.921, 0.906,
  0.922, 0.938, 0.923, 0.939, 0.955, 0.940, 0.956, 0.941, 0.926, 0.942,
  0.927, 0.912, 0.928, 0.913, 0.929, 0.945, 0.961, 0.946, 0.962, 0.978,
  0.963, 0.979, 0.995, 0.980, 0.965, 0.981, 0.966, 0.982, 0.998, 0.983,
  0.968, 0.984, 0.969, 0.985, 0.970, 0.986, 0.971, 0.987, 0.973, 0.988,
  0.975, 0.989, 0.978, 0.990, 0.981, 0.992, 0.986, 0.994, 0.998, 1.000];
const path63 = [0.965,
  0.972, 0.957, 0.949, 0.963, 0.978, 0.970, 0.985, 0.977, 0.962, 0.954,
  0.969, 0.983, 0.975, 0.990, 1.005, 0.996, 0.981, 0.973, 0.988, 1.002,
  0.994, 0.979, 0.971, 0.986, 0.977, 0.992, 1.007, 0.998, 0.983, 0.975,
  0.990, 1.004, 0.996, 0.981, 0.973, 0.958, 0.950, 0.965, 0.979, 0.971,
  0.986, 0.978, 0.963, 0.977, 0.992, 0.984, 0.998, 0.990, 0.976, 0.988,
  0.982, 0.994, 0.987, 0.998, 0.991, 1.000, 0.994, 1.001, 0.997, 1.000];
const path64 = [0.965,
  0.958, 0.950, 0.935, 0.943, 0.928, 0.920, 0.935, 0.927, 0.912, 0.904,
  0.919, 0.911, 0.926, 0.941, 0.933, 0.948, 0.940, 0.925, 0.917, 0.932,
  0.924, 0.939, 0.954, 0.946, 0.961, 0.953, 0.938, 0.930, 0.945, 0.960,
  0.952, 0.967, 0.959, 0.944, 0.936, 0.951, 0.943, 0.958, 0.973, 0.965,
  0.950, 0.942, 0.957, 0.949, 0.964, 0.956, 0.971, 0.963, 0.978, 0.970,
  0.984, 0.977, 0.990, 0.982, 0.994, 0.988, 0.996, 0.992, 0.998, 1.000];
const path65 = [0.965,
  0.980, 0.988, 1.003, 0.995, 1.010, 1.018, 1.003, 0.995, 1.010, 1.025,
  1.017, 1.032, 1.024, 1.009, 1.001, 1.016, 1.031, 1.023, 1.038, 1.030,
  1.015, 1.007, 0.992, 1.000, 0.985, 0.977, 0.992, 1.007, 0.999, 1.014,
  1.006, 0.991, 0.983, 0.998, 0.990, 1.005, 1.020, 1.012, 0.997, 0.989,
  1.004, 0.996, 1.011, 1.003, 0.988, 1.000, 0.992, 1.006, 0.998, 1.010,
  1.002, 0.994, 1.005, 0.998, 1.007, 1.001, 0.996, 1.003, 0.999, 1.000];
const path66 = [0.965,
  0.950, 0.942, 0.957, 0.949, 0.934, 0.926, 0.911, 0.919, 0.904, 0.912,
  0.897, 0.889, 0.904, 0.896, 0.911, 0.926, 0.918, 0.933, 0.925, 0.910,
  0.902, 0.917, 0.909, 0.894, 0.886, 0.901, 0.916, 0.908, 0.923, 0.938,
  0.930, 0.945, 0.937, 0.922, 0.914, 0.929, 0.944, 0.936, 0.951, 0.943,
  0.928, 0.920, 0.935, 0.927, 0.942, 0.934, 0.949, 0.941, 0.956, 0.948,
  0.962, 0.955, 0.968, 0.961, 0.973, 0.969, 0.980, 0.986, 0.993, 1.000];
const path67 = [0.965,
  0.978, 0.993, 1.001, 0.986, 0.994, 1.009, 1.024, 1.016, 1.031, 1.023,
  1.038, 1.053, 1.045, 1.030, 1.022, 1.037, 1.029, 1.014, 1.006, 1.021,
  1.013, 0.998, 0.990, 1.005, 0.997, 1.012, 1.027, 1.019, 1.004, 0.996,
  1.011, 1.003, 1.018, 1.033, 1.025, 1.010, 1.002, 1.017, 1.009, 0.994,
  1.006, 0.998, 1.012, 1.004, 0.990, 1.002, 1.014, 1.006, 0.996, 1.008,
  1.001, 1.010, 1.003, 0.996, 1.005, 0.999, 1.004, 0.998, 1.002, 1.000];
const path68 = [0.965,
  0.971, 0.986, 0.978, 0.963, 0.955, 0.970, 0.985, 0.977, 0.992, 1.007,
  0.999, 0.984, 0.976, 0.991, 1.006, 0.998, 1.013, 1.028, 1.020, 1.005,
  0.997, 1.012, 1.004, 0.989, 0.981, 0.996, 0.988, 0.973, 0.965, 0.980,
  0.995, 0.987, 0.972, 0.964, 0.979, 0.994, 0.986, 1.001, 0.993, 0.978,
  0.970, 0.985, 0.977, 0.992, 0.984, 0.970, 0.982, 0.975, 0.988, 0.980,
  0.992, 0.985, 0.996, 0.989, 0.998, 0.992, 1.000, 0.995, 0.999, 1.000];
const path69 = [0.965,
  0.957, 0.972, 0.964, 0.979, 0.994, 0.986, 0.971, 0.963, 0.948, 0.940,
  0.955, 0.947, 0.962, 0.954, 0.939, 0.931, 0.946, 0.961, 0.953, 0.968,
  0.960, 0.975, 0.990, 0.982, 0.967, 0.959, 0.974, 0.966, 0.981, 0.996,
  0.988, 0.973, 0.965, 0.980, 0.995, 0.987, 1.002, 0.994, 1.009, 1.001,
  0.986, 0.998, 0.990, 1.004, 0.996, 1.010, 1.002, 0.992, 1.005, 0.997,
  1.008, 1.000, 0.993, 1.004, 0.997, 1.005, 0.999, 1.003, 0.999, 1.000];
const path70 = [0.965,
  0.985, 0.977, 0.992, 1.007, 1.022, 1.014, 1.029, 1.044, 1.036, 1.021,
  1.013, 1.028, 1.020, 1.035, 1.050, 1.042, 1.027, 1.019, 1.034, 1.026,
  1.041, 1.056, 1.048, 1.033, 1.025, 1.010, 1.002, 1.017, 1.009, 1.024,
  1.016, 1.001, 0.993, 1.008, 1.000, 1.015, 1.030, 1.022, 1.037, 1.029,
  1.014, 1.026, 1.018, 1.032, 1.024, 1.010, 1.022, 1.014, 1.026, 1.016,
  1.008, 1.018, 1.010, 1.016, 1.007, 1.012, 1.004, 1.007, 1.002, 1.000];
const path71 = [0.965,
  0.975, 0.990, 0.982, 0.967, 0.959, 0.974, 0.966, 0.951, 0.943, 0.958,
  0.973, 0.965, 0.980, 0.972, 0.957, 0.949, 0.964, 0.979, 0.971, 0.986,
  1.001, 0.993, 1.008, 1.000, 0.985, 0.977, 0.992, 0.984, 0.969, 0.961,
  0.976, 0.991, 0.983, 0.998, 0.990, 0.975, 0.967, 0.982, 0.974, 0.989,
  1.004, 0.996, 0.984, 0.998, 0.990, 1.003, 0.995, 0.986, 0.999, 0.991,
  1.002, 0.995, 1.004, 0.997, 1.003, 0.996, 1.001, 0.998, 1.001, 1.000];
const path72 = [0.965,
  0.952, 0.967, 0.959, 0.944, 0.936, 0.951, 0.966, 0.958, 0.943, 0.935,
  0.920, 0.928, 0.913, 0.921, 0.936, 0.951, 0.943, 0.928, 0.920, 0.905,
  0.913, 0.928, 0.920, 0.935, 0.950, 0.942, 0.927, 0.919, 0.934, 0.949,
  0.964, 0.956, 0.941, 0.933, 0.948, 0.963, 0.955, 0.970, 0.962, 0.947,
  0.939, 0.954, 0.946, 0.961, 0.953, 0.968, 0.960, 0.974, 0.966, 0.979,
  0.972, 0.984, 0.978, 0.988, 0.983, 0.991, 0.988, 0.994, 0.997, 1.000];
const path73 = [0.965,
  0.983, 0.975, 0.990, 1.005, 0.997, 1.012, 1.004, 0.989, 0.981, 0.996,
  0.988, 1.003, 1.018, 1.010, 0.995, 0.987, 1.002, 0.994, 1.009, 1.024,
  1.016, 1.031, 1.023, 1.008, 1.000, 1.015, 1.030, 1.022, 1.037, 1.029,
  1.014, 1.006, 1.021, 1.013, 0.998, 0.990, 1.005, 0.997, 1.012, 1.027,
  1.019, 1.004, 1.016, 1.008, 1.022, 1.014, 1.000, 1.012, 1.004, 1.016,
  1.008, 1.000, 1.010, 1.003, 1.009, 1.002, 1.006, 1.001, 1.003, 1.000];
const path74 = [0.965,
  0.947, 0.939, 0.924, 0.932, 0.917, 0.909, 0.924, 0.939, 0.931, 0.946,
  0.938, 0.923, 0.915, 0.930, 0.922, 0.907, 0.899, 0.914, 0.906, 0.921,
  0.936, 0.928, 0.943, 0.935, 0.920, 0.912, 0.927, 0.942, 0.934, 0.949,
  0.941, 0.956, 0.948, 0.933, 0.925, 0.940, 0.932, 0.947, 0.962, 0.954,
  0.969, 0.961, 0.946, 0.958, 0.950, 0.964, 0.956, 0.970, 0.962, 0.975,
  0.968, 0.979, 0.973, 0.984, 0.979, 0.988, 0.985, 0.992, 0.996, 1.000];
const path75 = [0.965,
  0.962, 0.947, 0.955, 0.940, 0.932, 0.947, 0.962, 0.954, 0.969, 0.984,
  0.976, 0.961, 0.953, 0.938, 0.946, 0.931, 0.923, 0.938, 0.953, 0.945,
  0.960, 0.952, 0.937, 0.929, 0.944, 0.959, 0.951, 0.966, 0.958, 0.943,
  0.935, 0.950, 0.942, 0.957, 0.972, 0.964, 0.949, 0.941, 0.956, 0.948,
  0.963, 0.955, 0.968, 0.960, 0.974, 0.966, 0.979, 0.971, 0.983, 0.976,
  0.987, 0.980, 0.990, 0.985, 0.993, 0.988, 0.995, 0.993, 0.998, 1.000];
const path76 = [0.965,
  0.973, 0.988, 1.003, 1.011, 0.996, 1.004, 1.019, 1.034, 1.026, 1.041,
  1.033, 1.018, 1.010, 1.025, 1.017, 1.002, 0.994, 1.009, 1.024, 1.016,
  1.001, 0.993, 0.978, 0.986, 1.001, 0.993, 1.008, 1.023, 1.015, 1.000,
  0.992, 1.007, 0.999, 0.984, 0.976, 0.991, 1.006, 0.998, 0.983, 0.975,
  0.990, 0.982, 0.996, 0.988, 1.000, 0.992, 1.005, 0.997, 0.989, 1.002,
  0.995, 1.006, 0.999, 0.993, 1.003, 0.997, 1.004, 0.999, 1.001, 1.000];

const paths = [
  path00, path01, path02, path03, path04, path05, path06,
  path07, path08, path09, path10, path11, path12, path13,
  path14, path15, path16, path17, path18, path19, path20,
  path21, path22, path23, path24, path25, path26, path27,
  path28, path29, path30, path31, path32, path33, path34,
  path35, path36, path37, path38, path39, path40, path41,
  path42, path43, path44, path45, path46, path47, path48,
  path49, path50, path51, path52, path53, path54, path55,
  path56, path57, path58, path59, path60, path61, path62,
  path63, path64, path65, path66, path67, path68, path69,
  path70, path71, path72, path73, path74, path75, path76,
];

// MATLAB classic line colour order
const palette = ["#2f14ff", "#0a8a0a", "#ff1010", "#10bfc8", "#c818d0", "#bfbf10", "#404040"];

const FONT = '"Liberation Sans", Arial, sans-serif';

const inwardTicks = {
  id: "inwardTicks",
  afterDraw(chart: any) {
    const { ctx, chartArea, scales } = chart;
    ctx.save();
    ctx.strokeStyle = "#111";
    ctx.lineWidth = 1;
    ctx.beginPath();
    for (const v of xTicks) {
      if (v === 0) continue;
      const px = Math.round(scales.x.getPixelForValue(v)) + 0.5;
      ctx.moveTo(px, chartArea.bottom);
      ctx.lineTo(px, chartArea.bottom - 7);
    }
    for (const v of yTicks) {
      const py = Math.round(scales.y.getPixelForValue(v)) + 0.5;
      ctx.moveTo(chartArea.left, py);
      ctx.lineTo(chartArea.left + 7, py);
    }
    ctx.stroke();
    ctx.restore();
  },
};

export default function App() {
  const canvasRef = useRef<HTMLCanvasElement | null>(null);

  useEffect(() => {
    const canvas = canvasRef.current;
    if (!canvas) return;
    const datasets = paths.map((p, i) => ({
      label: `path ${i + 1}`,
      data: p.map((v, k) => ({ x: times[k], y: v })),
      borderColor: palette[i % palette.length],
      borderWidth: 1.2,
      pointRadius: 0,
      tension: 0,
      fill: false,
    }));
    const chart = new Chart(canvas, {
      type: "line",
      data: { datasets },
      plugins: [inwardTicks],
      options: {
        responsive: false,
        animation: false,
        events: [],
        layout: { padding: { left: 0, right: 0, top: 0, bottom: 0 } },
        plugins: {
          legend: { display: false },
          tooltip: { enabled: false },
          title: {
            display: true,
            text: TITLE,
            fullSize: false,
            color: "#000",
            font: { family: FONT, size: 22, weight: "bold" },
            padding: { top: 5, bottom: 13.6 },
          },
        },
        scales: {
          x: {
            type: "linear",
            min: 0,
            max: 3,
            afterBuildTicks: (scale: any) => {
              scale.ticks = xTicks.map((v) => ({ value: v }));
            },
            afterFit: (scale: any) => {
              scale.height = 59;
            },
            ticks: {
              color: "#000",
              padding: 6,
              maxRotation: 0,
              autoSkip: false,
              font: { family: FONT, size: 21, weight: "bold" },
              callback: (v: any) => String(v),
            },
            grid: { color: "rgba(0,0,0,0.8)", lineWidth: 1, drawTicks: false },
            border: { display: true, color: "#222", width: 2, dash: [2, 6] },
            title: {
              display: true,
              text: X_LABEL,
              color: "#000",
              font: { family: FONT, size: 22, weight: "bold" },
              padding: { top: 0, bottom: 3 },
            },
          },
          y: {
            type: "linear",
            min: 0.771,
            max: 1.198,
            afterBuildTicks: (scale: any) => {
              scale.ticks = yTicks.map((v) => ({ value: v }));
            },
            afterFit: (scale: any) => {
              scale.width = 103;
            },
            ticks: {
              color: "#000",
              padding: 6,
              autoSkip: false,
              font: { family: FONT, size: 21, weight: "bold" },
              callback: (v: any) => String(v),
            },
            grid: { color: "rgba(0,0,0,0.8)", lineWidth: 1, drawTicks: false },
            border: { display: true, color: "#222", width: 2, dash: [2, 6] },
            title: {
              display: true,
              text: Y_LABEL,
              color: "#000",
              font: { family: FONT, size: 22, weight: "bold" },
              padding: { top: 18, bottom: 0 },
            },
          },
        },
      },
    } as any);
    return () => chart.destroy();
  }, []);

  return (
    <div style={{ position: "absolute", left: 0, top: 0, width: 842, height: 684, background: "#fff" }}>
      <canvas ref={canvasRef} width={842} height={684} style={{ width: 842, height: 684, display: "block" }} />
    </div>
  );
}
